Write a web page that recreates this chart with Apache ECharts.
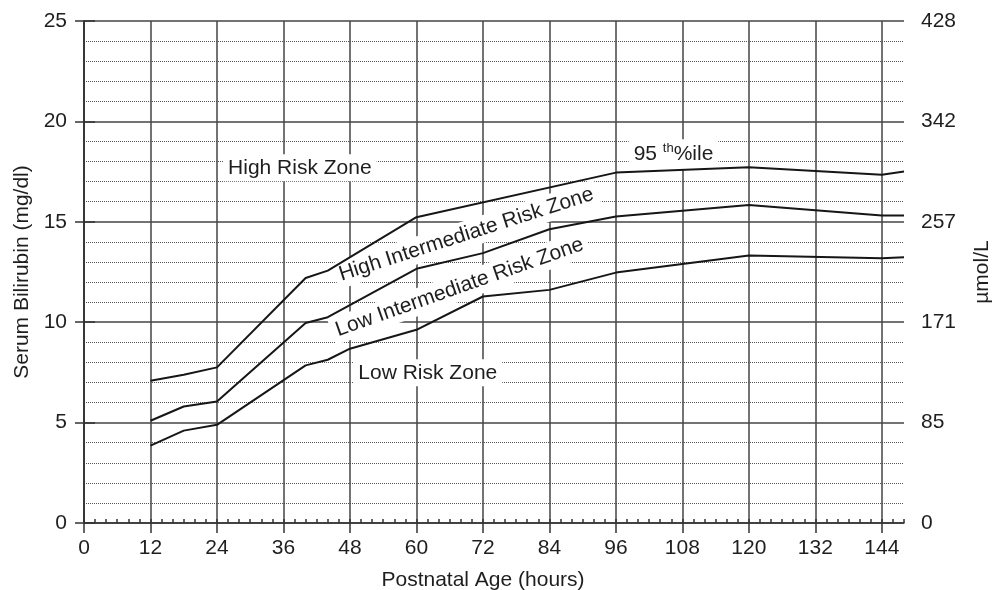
<!DOCTYPE html>
<html>
<head>
<meta charset="utf-8">
<script src="https://cdn.jsdelivr.net/npm/echarts@6/dist/echarts.min.js"></script>
<style>
  html, body { margin: 0; padding: 0; background: #fff; }
  #chart { width: 1000px; height: 590px; }
</style>
</head>
<body>
<div id="chart"></div>
<script>
// Hour-specific serum bilirubin nomogram: percentile curves (mg/dl) by postnatal age (hours)
const pct95Hours  = [12, 18, 24, 40, 44, 60, 96, 120, 144, 148];
const pct95Values = [7.08, 7.38, 7.75, 12.2, 12.57, 15.23, 17.45, 17.72, 17.34, 17.5];

const pct75Hours  = [12, 18, 24, 40, 44, 60, 72, 84, 96, 120, 144, 148];
const pct75Values = [5.09, 5.8, 6.05, 9.96, 10.25, 12.66, 13.44, 14.63, 15.26, 15.84, 15.31, 15.31];

const pct40Hours  = [12, 18, 24, 40, 44, 48, 60, 72, 84, 96, 120, 144, 148];
const pct40Values = [3.85, 4.6, 4.89, 7.85, 8.13, 8.68, 9.62, 11.28, 11.61, 12.47, 13.32, 13.19, 13.24];

// Axis ticks
const hourTicks = [0, 12, 24, 36, 48, 60, 72, 84, 96, 108, 120, 132, 144];
const umolTicks = ['0', '85', '171', '257', '342', '428'];

// Zone captions, anchored in chart units (hours, mg/dl)
const zoneTexts  = ['High Risk Zone', 'High Intermediate Risk Zone', 'Low Intermediate Risk Zone', 'Low Risk Zone', '{n|95 }{s|th}{n|%ile}'];
const zoneHours  = [38.96, 69.0, 67.8, 62.05, 106.4];
const zoneLevels = [17.69, 14.37, 11.74, 7.48, 18.36];
const zoneAngles = [0, 17.8, 19.4, 0, 0];

const FONT = "'Liberation Sans', Arial, Helvetica, sans-serif";
const TEXT = '#1e1e1e';
const GRID = '#444';
const CURVE = '#161616';

const pairs = (xs, ys) => xs.map((x, i) => [x, ys[i]]);

const curveSeries = (name, xs, ys) => ({
  name,
  type: 'line',
  xAxisIndex: 0,
  yAxisIndex: 0,
  data: pairs(xs, ys),
  symbol: 'none',
  silent: true,
  z: 4,
  lineStyle: { color: CURVE, width: 2 }
});

const chart = echarts.init(document.getElementById('chart'), null, { renderer: 'canvas' });

chart.setOption({
  animation: false,
  backgroundColor: '#fff',
  textStyle: { fontFamily: FONT },
  grid: { left: 84, right: 96, top: 21, bottom: 67, containLabel: false, outerBoundsMode: 'none' },
  xAxis: [
    {
      type: 'value',
      min: 0, max: 148, interval: 12,
      position: 'bottom',
      name: 'Postnatal Age (hours)',
      nameLocation: 'middle',
      nameGap: 47,
      nameTextStyle: { fontSize: 21, color: TEXT, fontFamily: FONT, padding: [0, 22, 0, 0] },
      axisLine: { show: true, lineStyle: { color: '#333', width: 1.5 } },
      axisTick: { show: true, length: 10, inside: false, customValues: hourTicks, lineStyle: { color: '#333', width: 1.5 } },
      axisLabel: {
        show: true, margin: 15, fontSize: 21, color: TEXT, fontFamily: FONT,
        customValues: hourTicks,
        formatter: v => (v % 12 === 0 ? String(v) : '')
      },
      splitLine: { show: true, lineStyle: { color: GRID, width: 1.5 } }
    },
    {
      // two-hour minor ticks pointing into the plot
      type: 'value',
      min: 0, max: 148, interval: 2,
      position: 'bottom',
      axisLine: { show: false },
      axisTick: { show: true, inside: true, length: 4, lineStyle: { color: '#333', width: 1.5 } },
      axisLabel: { show: false },
      splitLine: { show: false }
    }
  ],
  yAxis: [
    {
      type: 'value',
      min: 0, max: 25, interval: 5,
      position: 'left',
      name: 'Serum Bilirubin (mg/dl)',
      nameLocation: 'middle',
      nameGap: 51,
      nameRotate: 90,
      nameTextStyle: { fontSize: 21, color: TEXT, fontFamily: FONT },
      axisLine: { show: true, lineStyle: { color: '#333', width: 1.5 } },
      axisTick: { show: true, length: 9, lineStyle: { color: '#333', width: 1.5 } },
      axisLabel: { margin: 17, fontSize: 21, color: TEXT, fontFamily: FONT },
      splitLine: { show: true, lineStyle: { color: GRID, width: 1.5 } },
      minorTick: { show: false, splitNumber: 5 },
      minorSplitLine: { show: true, lineStyle: { color: '#555', width: 1, type: 'dotted' } }
    },
    {
      type: 'value',
      min: 0, max: 25, interval: 5,
      position: 'right',
      name: 'µmol/L',
      nameLocation: 'middle',
      nameGap: 68,
      nameRotate: 90,
      nameTextStyle: { fontSize: 21, color: TEXT, fontFamily: FONT },
      axisLine: { show: true, lineStyle: { color: '#333', width: 1.5 } },
      axisTick: { show: true, length: 11, lineStyle: { color: '#333', width: 1.5 } },
      axisLabel: {
        margin: 17, fontSize: 21, color: TEXT, fontFamily: FONT,
        formatter: v => umolTicks[Math.round(v / 5)]
      },
      splitLine: { show: false }
    }
  ],
  series: [
    curveSeries('95th percentile', pct95Hours, pct95Values),
    curveSeries('75th percentile', pct75Hours, pct75Values),
    curveSeries('40th percentile', pct40Hours, pct40Values),
    {
      name: 'zones',
      type: 'scatter',
      xAxisIndex: 0,
      yAxisIndex: 0,
      symbolSize: 0,
      silent: true,
      z: 3,
      itemStyle: { opacity: 1 },
      data: zoneTexts.map((t, i) => ({
        value: [zoneHours[i], zoneLevels[i]],
        label: { formatter: t, rotate: zoneAngles[i] }
      })),
      label: {
        show: true,
        position: 'inside',
        fontSize: 21,
        color: TEXT,
        textBorderWidth: 0,
        fontFamily: FONT,
        backgroundColor: '#fff',
        padding: [3, 5],
        rich: {
          n: { fontSize: 21, color: TEXT, fontFamily: FONT, lineHeight: 24 },
          s: { fontSize: 13, color: TEXT, fontFamily: FONT, lineHeight: 16, verticalAlign: 'top' }
        }
      }
    }
  ]
});
</script>
</body>
</html>
